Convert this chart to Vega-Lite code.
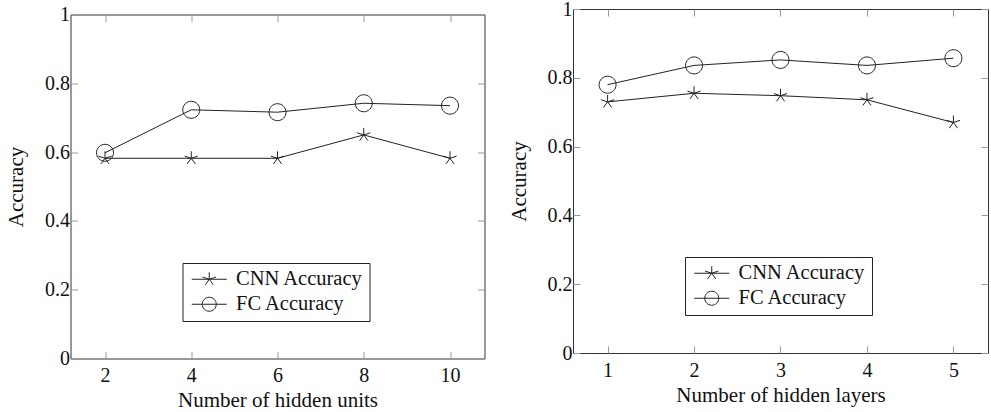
{
  "$schema": "https://vega.github.io/schema/vega-lite/v6.json",
  "padding": {"left": 4.5, "top": -2, "right": 0, "bottom": 0},
  "background": "white",
  "config": {
    "font": "Liberation Serif, DejaVu Serif, serif",
    "view": {"stroke": "#333", "strokeWidth": 1},
    "axis": {
      "grid": false,
      "domain": false,
      "tickColor": "#999",
      "tickSize": -7,
      "tickWidth": 1,
      "labelFont": "Liberation Serif, DejaVu Serif, serif",
      "labelFontSize": 20,
      "labelColor": "#111",
      "titleFont": "Liberation Serif, DejaVu Serif, serif",
      "titleFontSize": 21,
      "titleFontWeight": "normal",
      "titleColor": "#111"
    },
    "axisX": {"labelPadding": 14, "titlePadding": 4},
    "axisY": {"labelPadding": 8, "titlePadding": 18},
    "legend": {
      "orient": "none",
      "strokeColor": "#222",
      "padding": 6,
      "labelFont": "Liberation Serif, DejaVu Serif, serif",
      "labelFontSize": 20.5,
      "labelColor": "#111",
      "symbolSize": 196,
      "symbolStrokeColor": "#222",
      "symbolStrokeWidth": 1,
      "symbolFillColor": "transparent",
      "labelOffset": 27,
      "rowPadding": 4
    }
  },
  "datasets": {
    "units": [
      {"x": 2, "accuracy": 0.582, "series": "CNN Accuracy"},
      {"x": 4, "accuracy": 0.582, "series": "CNN Accuracy"},
      {"x": 6, "accuracy": 0.582, "series": "CNN Accuracy"},
      {"x": 8, "accuracy": 0.650, "series": "CNN Accuracy"},
      {"x": 10, "accuracy": 0.582, "series": "CNN Accuracy"},
      {"x": 2, "accuracy": 0.598, "series": "FC Accuracy"},
      {"x": 4, "accuracy": 0.723, "series": "FC Accuracy"},
      {"x": 6, "accuracy": 0.716, "series": "FC Accuracy"},
      {"x": 8, "accuracy": 0.742, "series": "FC Accuracy"},
      {"x": 10, "accuracy": 0.735, "series": "FC Accuracy"}
    ],
    "layers": [
      {"x": 1, "accuracy": 0.730, "series": "CNN Accuracy"},
      {"x": 2, "accuracy": 0.755, "series": "CNN Accuracy"},
      {"x": 3, "accuracy": 0.748, "series": "CNN Accuracy"},
      {"x": 4, "accuracy": 0.736, "series": "CNN Accuracy"},
      {"x": 5, "accuracy": 0.670, "series": "CNN Accuracy"},
      {"x": 1, "accuracy": 0.780, "series": "FC Accuracy"},
      {"x": 2, "accuracy": 0.836, "series": "FC Accuracy"},
      {"x": 3, "accuracy": 0.852, "series": "FC Accuracy"},
      {"x": 4, "accuracy": 0.836, "series": "FC Accuracy"},
      {"x": 5, "accuracy": 0.857, "series": "FC Accuracy"}
    ]
  },
  "resolve": {"scale": {"color": "independent"}, "legend": {"color": "independent"}},
  "spacing": 21.5,
  "hconcat": [
    {
      "spacing": -6.5,
      "vconcat": [
        {
          "width": 414,
          "height": 1,
          "view": {"stroke": null},
          "data": {"values": []},
          "mark": "point"
        },
        {
          "width": 414,
          "height": 344,
          "data": {"name": "units"},
          "resolve": {"axis": {"x": "independent", "y": "independent"}},
          "layer": [
            {
              "mark": {"type": "line", "strokeWidth": 1},
              "encoding": {
                "x": {"field": "x", "type": "quantitative", "scale": {"domain": [1.2, 10.8], "nice": false, "zero": false}, "axis": {"values": [2, 4, 6, 8, 10], "title": "Number of hidden units"}},
                "y": {"field": "accuracy", "type": "quantitative", "scale": {"domain": [0, 1], "nice": false, "zero": false}, "axis": {"values": [0, 0.2, 0.4, 0.6, 0.8, 1], "format": "~g", "title": "Accuracy"}},
                "color": {
                  "field": "series", "type": "nominal",
                  "scale": {"domain": ["CNN Accuracy", "FC Accuracy"], "range": ["#222", "#222"]},
                  "legend": {
                    "title": null,
                    "legendX": 112,
                    "legendY": 254,
                    "labelExpr": "datum.label == 'FC Accuracy' ? '\u00a0\u00a0FC Accuracy' : datum.label",
                    "encode": {"symbols": {"update": {"shape": {"signal": "datum.value == 'CNN Accuracy' ? 'M-1,0L4,0M1.5,0L1.5,-1M1.5,0L2.451,-0.309M1.5,0L0.549,-0.309M1.5,0L0.912,0.809M1.5,0L2.088,0.809' : 'M-1,0L4,0M2.5,0A1,1,0,1,1,0.5,0A1,1,0,1,1,2.5,0Z'"}, "fill": {"value": "transparent"}, "stroke": {"value": "#222"}, "strokeWidth": {"value": 1}, "size": {"value": 196}, "strokeDash": {"value": []}}}}
                  }
                }
              }
            },
            {
              "transform": [{"filter": "datum.series == 'CNN Accuracy'"}],
              "mark": {"type": "point", "filled": false, "stroke": "#222", "strokeWidth": 1, "size": 289, "opacity": 1, "shape": "M0,0L0,-0.82M0,0L0.78,-0.253M0,0L-0.78,-0.253M0,0L-0.482,0.663M0,0L0.482,0.663"},
              "encoding": {
                "x": {"field": "x", "type": "quantitative", "axis": {"orient": "top", "labels": false, "title": null, "values": [2, 4, 6, 8, 10]}},
                "y": {"field": "accuracy", "type": "quantitative", "axis": {"orient": "right", "labels": false, "title": null, "values": [0, 0.2, 0.4, 0.6, 0.8, 1]}}
              }
            },
            {
              "transform": [{"filter": "datum.series == 'FC Accuracy'"}],
              "mark": {"type": "point", "filled": false, "stroke": "#222", "strokeWidth": 1, "size": 289, "opacity": 1, "shape": "M1,0A1,1,0,1,1,-1,0A1,1,0,1,1,1,0Z"},
              "encoding": {
                "x": {"field": "x", "type": "quantitative", "axis": null},
                "y": {"field": "accuracy", "type": "quantitative", "axis": null}
              }
            }
          ]
        }
      ]
    },
    {
      "width": 415,
      "height": 344,
      "data": {"name": "layers"},
      "resolve": {"axis": {"x": "independent", "y": "independent"}},
      "layer": [
        {
          "mark": {"type": "line", "strokeWidth": 1},
          "encoding": {
            "x": {"field": "x", "type": "quantitative", "scale": {"domain": [0.6, 5.4], "nice": false, "zero": false}, "axis": {"values": [1, 2, 3, 4, 5], "title": "Number of hidden layers"}},
            "y": {"field": "accuracy", "type": "quantitative", "scale": {"domain": [0, 1], "nice": false, "zero": false}, "axis": {"values": [0, 0.2, 0.4, 0.6, 0.8, 1], "format": "~g", "title": "Accuracy"}},
            "color": {
              "field": "series", "type": "nominal",
              "scale": {"domain": ["CNN Accuracy", "FC Accuracy"], "range": ["#222", "#222"]},
              "legend": {
                "title": null,
                "legendX": 112,
                "legendY": 248,
                "labelExpr": "datum.label == 'FC Accuracy' ? '\u00a0\u00a0FC Accuracy' : datum.label",
                "encode": {"symbols": {"update": {"shape": {"signal": "datum.value == 'CNN Accuracy' ? 'M-1,0L4,0M1.5,0L1.5,-1M1.5,0L2.451,-0.309M1.5,0L0.549,-0.309M1.5,0L0.912,0.809M1.5,0L2.088,0.809' : 'M-1,0L4,0M2.5,0A1,1,0,1,1,0.5,0A1,1,0,1,1,2.5,0Z'"}, "fill": {"value": "transparent"}, "stroke": {"value": "#222"}, "strokeWidth": {"value": 1}, "size": {"value": 196}, "strokeDash": {"value": []}}}}
              }
            }
          }
        },
        {
          "transform": [{"filter": "datum.series == 'CNN Accuracy'"}],
          "mark": {"type": "point", "filled": false, "stroke": "#222", "strokeWidth": 1, "size": 289, "opacity": 1, "shape": "M0,0L0,-0.82M0,0L0.78,-0.253M0,0L-0.78,-0.253M0,0L-0.482,0.663M0,0L0.482,0.663"},
          "encoding": {
            "x": {"field": "x", "type": "quantitative", "axis": {"orient": "top", "labels": false, "title": null, "values": [1, 2, 3, 4, 5]}},
            "y": {"field": "accuracy", "type": "quantitative", "axis": {"orient": "right", "labels": false, "title": null, "values": [0, 0.2, 0.4, 0.6, 0.8, 1]}}
          }
        },
        {
          "transform": [{"filter": "datum.series == 'FC Accuracy'"}],
          "mark": {"type": "point", "filled": false, "stroke": "#222", "strokeWidth": 1, "size": 289, "opacity": 1, "shape": "M1,0A1,1,0,1,1,-1,0A1,1,0,1,1,1,0Z"},
          "encoding": {
            "x": {"field": "x", "type": "quantitative", "axis": null},
            "y": {"field": "accuracy", "type": "quantitative", "axis": null}
          }
        }
      ]
    }
  ]
}
